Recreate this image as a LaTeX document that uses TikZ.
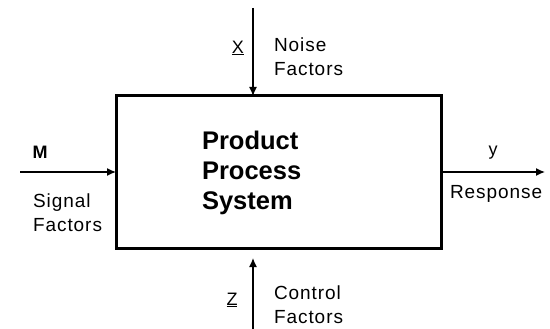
\documentclass[tikz,border=0pt]{standalone}
\usepackage{fontspec}
\setmainfont{Liberation Sans}
\usepackage{tikz}
\usetikzlibrary{arrows.meta,positioning}
\newfontfamily\lblfont[LetterSpace=5]{Liberation Sans}

\begin{document}
\begin{tikzpicture}[x=1pt, y=-1pt,
    every node/.style={inner sep=0pt, outer sep=0pt},
    lbl/.style={font=\fontsize{19}{24}\selectfont\lblfont, align=left, anchor=west},
    var/.style={font=\fontsize{18}{20}\selectfont\lblfont},
    flow/.style={line width=1.4pt, -{Latex[length=9pt, width=8pt]}}]
  \useasboundingbox (0,0) rectangle (550,329);
  \node[draw, line width=3pt, minimum width=325pt, minimum height=152pt] (sys) at (278.5,172) {};
  \node[font=\fontsize{25.5}{30}\selectfont\bfseries, align=left, anchor=west] (sysname) at (202,173)
    {Product\\Process\\System};

  \coordinate (noisein) at (253,8);
  \coordinate (signalin) at (20,172);
  \coordinate (respout) at (545,172);
  \coordinate (ctrlin) at (253,329);
  \coordinate (ctrltip) at (253,258);

  \draw[flow] (noisein) -- (noisein |- sys.north);
  \draw[flow] (signalin) -- (signalin -| sys.west);
  \draw[flow] (respout -| sys.east) -- (respout);
  \draw[flow] (ctrlin) -- (ctrltip);

  \node[var] (xvar) at (238,48) {\underline{X}};
  \node[lbl] (noise) at (274,56.5) {Noise\\Factors};
  \node[var, font=\fontsize{18}{20}\selectfont\bfseries] (mvar) at (40,152) {M};
  \node[lbl] (signal) at (33,212.5) {Signal\\Factors};
  \node[var] (yvar) at (493,153) {y};
  \node[lbl] (resp) at (450,194) {Response};
  \node[var] (zvar) at (232,300) {\underline{Z}};
  \node[lbl] (ctrl) at (274,305) {Control\\Factors};
\end{tikzpicture}
\end{document}
